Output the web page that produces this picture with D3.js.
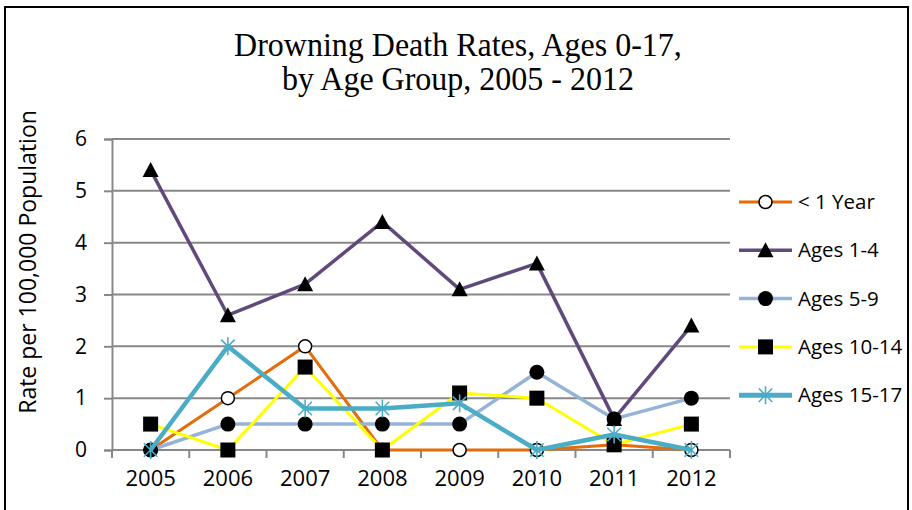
<!DOCTYPE html>
<html><head><meta charset="utf-8">
<script src="https://cdn.jsdelivr.net/npm/d3@7"></script>
<style>body{margin:0;background:#fff}</style>
</head><body>
<svg id="c" width="912" height="510"></svg>
<script>
const years = ["2005","2006","2007","2008","2009","2010","2011","2012"];
const seriesNames = ["< 1 Year","Ages 1-4","Ages 5-9","Ages 10-14","Ages 15-17"];
const under1 = [0, 1, 2, 0, 0, 0, 0.1, 0];
const ages1to4 = [5.4, 2.6, 3.2, 4.4, 3.1, 3.6, 0.6, 2.4];
const ages5to9 = [0, 0.5, 0.5, 0.5, 0.5, 1.5, 0.6, 1.0];
const ages10to14 = [0.5, 0, 1.6, 0, 1.1, 1.0, 0.1, 0.5];
const ages15to17 = [0, 2.0, 0.8, 0.8, 0.9, 0, 0.3, 0];
const yTicks = [0,1,2,3,4,5,6];

const colors = ["#E46C0A","#604A7B","#95B3D7","#FFFF00","#4BACC6"];
const widths = [3,3.5,3.5,3,4.5];
const markers = ["circleOpen","triangle","circle","square","star"];
const seriesVals = [under1, ages1to4, ages5to9, ages10to14, ages15to17];
const FONT = "'Open Sans', sans-serif";

const svg = d3.select("#c");
svg.append("rect").attr("x",5).attr("y",7).attr("width",903).attr("height",510).attr("fill","none").attr("stroke","#000").attr("stroke-width",2);

const x = d3.scaleBand().domain(years).range([112,730]);
const y = d3.scaleLinear().domain([0,6]).range([450,139]);

// gridlines
svg.append("g").selectAll("line").data(yTicks).join("line")
  .attr("x1",112).attr("x2",730).attr("y1",d=>y(d)).attr("y2",d=>y(d))
  .attr("stroke","#888").attr("stroke-width",2);

// y axis
const ya = svg.append("g").attr("transform","translate(112,0)").call(d3.axisLeft(y).tickValues(yTicks).tickFormat(d3.format("d")).tickSize(8).tickPadding(17));
ya.select(".domain").attr("stroke","#888").attr("stroke-width",2);
ya.selectAll(".tick line").attr("stroke","#888").attr("stroke-width",2);
ya.selectAll("text").attr("font-family",FONT).attr("font-size",21).attr("fill","#000");

// x axis
const xa = svg.append("g").attr("transform","translate(0,450)").call(d3.axisBottom(x).tickSize(0).tickPadding(20));
xa.select(".domain").remove();
xa.selectAll("text").attr("font-family",FONT).attr("font-size",22).attr("fill","#000");
const bounds = years.map(d=>x(d)).concat([730]);
svg.append("g").selectAll("line").data(bounds).join("line")
  .attr("x1",d=>d).attr("x2",d=>d).attr("y1",450).attr("y2",458)
  .attr("stroke","#888").attr("stroke-width",2);

const cx = d => x(d) + x.bandwidth()/2;

function drawMarker(g, type, px, py, color){
  if(type==="circleOpen") g.append("circle").attr("cx",px).attr("cy",py).attr("r",6.5).attr("fill","#fff").attr("stroke","#000").attr("stroke-width",1.5);
  else if(type==="circle") g.append("circle").attr("cx",px).attr("cy",py).attr("r",7.5).attr("fill","#000");
  else if(type==="triangle") g.append("path").attr("d",`M${px},${py-8}L${px+8},${py+7}L${px-8},${py+7}Z`).attr("fill","#000");
  else if(type==="square") g.append("rect").attr("x",px-7.5).attr("y",py-7.5).attr("width",15).attr("height",15).attr("fill","#000");
  else if(type==="star"){
    const r=9;
    [[0,-r,0,r],[-r*0.75,-r*0.75,r*0.75,r*0.75],[-r*0.75,r*0.75,r*0.75,-r*0.75]].forEach(l=>
      g.append("line").attr("x1",px+l[0]).attr("y1",py+l[1]).attr("x2",px+l[2]).attr("y2",py+l[3]).attr("stroke",color).attr("stroke-width",1.6));
  }
}

const line = d3.line().x((d,i)=>cx(years[i])).y(d=>y(d));
seriesVals.forEach((vals,si)=>{
  const g = svg.append("g");
  g.append("path").attr("d",line(vals)).attr("fill","none").attr("stroke",colors[si]).attr("stroke-width",widths[si]).attr("stroke-linejoin","round");
  vals.forEach((v,i)=>drawMarker(g, markers[si], cx(years[i]), y(v), colors[si]));
});

// legend
const lg = svg.append("g");
seriesNames.forEach((n,i)=>{
  const ly = 202 + i*48.3;
  lg.append("line").attr("x1",739).attr("x2",792).attr("y1",ly).attr("y2",ly).attr("stroke",colors[i]).attr("stroke-width",i===4?5:widths[i]);
  drawMarker(lg, markers[i], 765.5, ly, colors[i]);
  lg.append("text").attr("x",798).attr("y",ly).attr("dy","0.35em").attr("font-family",FONT).attr("font-size",20.5).text(n);
});

// title (slightly taller glyphs as in the reference)
const t = svg.append("text").attr("transform","scale(1,1.07)").attr("text-anchor","middle").attr("font-family","'Liberation Serif', serif").attr("font-size",32);
t.append("tspan").attr("x",458).attr("y",52.3).text("Drowning Death Rates, Ages 0-17,");
t.append("tspan").attr("x",458).attr("y",84.1).text("by Age Group, 2005 - 2012");

// y label
svg.append("text").attr("transform","translate(36,262) rotate(-90)").attr("text-anchor","middle")
  .attr("font-family",FONT).attr("font-size",23).text("Rate per 100,000 Population");
</script>
</body></html>
